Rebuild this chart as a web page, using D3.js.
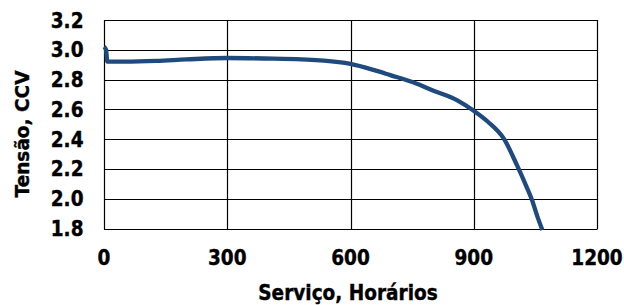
<!DOCTYPE html>
<html>
<head>
<meta charset="utf-8">
<script src="https://cdn.jsdelivr.net/npm/d3@7"></script>
<style>
  html, body { margin: 0; padding: 0; background: #fff; }
  svg { display: block; }
  text { font-family: Verdana, "DejaVu Sans", sans-serif; font-weight: bold; fill: #000; stroke: #000; stroke-width: 0.35px; }
</style>
</head>
<body>
<svg id="chart" width="624" height="305"></svg>
<script>
const hours   = [0, 5, 8, 50, 128, 200, 300, 413, 535, 600, 656, 697, 754, 802, 860, 900, 933, 974, 1006, 1027, 1042, 1055, 1067];
const voltage = [3.02, 3.0, 2.92, 2.92, 2.925, 2.935, 2.945, 2.94, 2.927, 2.905, 2.865, 2.83, 2.78, 2.725, 2.66, 2.59, 2.52, 2.40, 2.22, 2.09, 1.99, 1.88, 1.79];
const xTicks = [0, 300, 600, 900, 1200];
const yTicks = [1.8, 2.0, 2.2, 2.4, 2.6, 2.8, 3.0, 3.2];
const xTitle = "Serviço, Horários";
const yTitle = "Tensão, CCV";

const svg = d3.select("#chart");
const L = 104, R = 597, T = 20, B = 228.5;
const x = d3.scaleLinear().domain([0, 1200]).range([L, R]);
const y = d3.scaleLinear().domain([1.8, 3.2]).range([B, T]);
const FS = 18.5, SY = 1.17;

// gridlines
const g = svg.append("g");
g.selectAll("line.h").data(yTicks).join("line")
  .attr("x1", L).attr("x2", R + 0.5)
  .attr("y1", d => Math.round(y(d)) + 0.5).attr("y2", d => Math.round(y(d)) + 0.5)
  .attr("stroke", "#000").attr("stroke-width", 1.2);
g.selectAll("line.v").data(xTicks).join("line")
  .attr("y1", T).attr("y2", B + 0.5)
  .attr("x1", d => Math.round(x(d)) + 0.5).attr("x2", d => Math.round(x(d)) + 0.5)
  .attr("stroke", "#000").attr("stroke-width", 1.2);

// line
const line = d3.line().x((d, i) => x(hours[i])).y(d => y(d)).curve(d3.curveMonotoneX);
svg.append("path").datum(voltage)
  .attr("d", line)
  .attr("fill", "none")
  .attr("stroke", "#1f4a7e")
  .attr("stroke-width", 4.3)
  .attr("stroke-linejoin", "round");

// y tick labels
svg.selectAll("text.yt").data(yTicks).join("text")
  .attr("transform", d => `translate(83.5,${y(d)}) scale(1,${SY})`)
  .attr("text-anchor", "end").attr("dominant-baseline", "central")
  .attr("font-size", FS)
  .text(d => d.toFixed(1));

// x tick labels
svg.selectAll("text.xt").data(xTicks).join("text")
  .attr("transform", d => `translate(${x(d)},265) scale(1,${SY})`)
  .attr("text-anchor", "middle")
  .attr("font-size", FS)
  .text(d => d);

// titles
svg.append("text")
  .attr("transform", `translate(348,299.5) scale(1,${SY})`)
  .attr("text-anchor", "middle").attr("font-size", FS)
  .text(xTitle);
svg.append("text")
  .attr("transform", "translate(28.5,134) rotate(-90) scale(1,1.08)")
  .attr("text-anchor", "middle").attr("font-size", FS)
  .text(yTitle);
</script>
</body>
</html>
